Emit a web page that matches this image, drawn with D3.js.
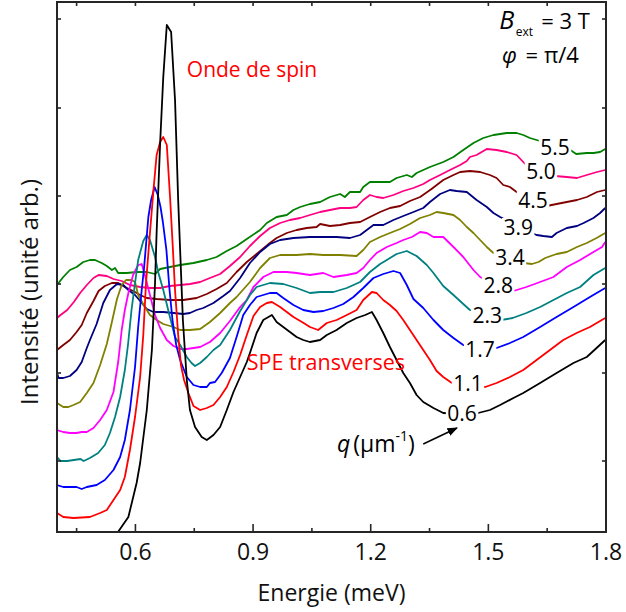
<!DOCTYPE html>
<html><head><meta charset="utf-8">
<script src="https://cdn.jsdelivr.net/npm/d3@7/dist/d3.min.js"></script>
<style>
html,body{margin:0;padding:0;background:#fff;}
text{font-family:"Open Sans",sans-serif;}
</style></head>
<body><svg id="c" width="626" height="612"></svg>
<script>
// ---- data (energy meV, intensity arb. units) ----
const qLabels = ["0.6","1.1","1.7","2.3","2.8","3.4","3.9","4.5","5.0","5.5"];
const colors  = ["#000000","#ff0000","#0000ff","#008080","#ff00ff","#808000","#000080","#800000","#ff0080","#008000"];
const xTicksMajor = [0.6,0.9,1.2,1.5,1.8];
const xTicksMinor = [0.45,0.75,1.05,1.35,1.65];
const yTicks = [89,177,266,354,442,531];

const s06 = [[0.545,0],[0.552,16],[0.582,33],[0.603,67],[0.612,87],[0.629,140],[0.642,200],[0.650,267],[0.654,317],[0.663,407],[0.671,473],[0.680,525],[0.691,518],[0.701,450],[0.709,350],[0.718,260],[0.721,230],[0.731,170],[0.739,140],[0.752,123],[0.769,113],[0.782,110],[0.799,115],[0.816,123],[0.833,140],[0.850,158],[0.867,173],[0.884,188],[0.892,197],[0.909,217],[0.926,230],[0.948,235],[0.960,228],[0.977,223],[0.994,218],[1.011,213],[1.028,210],[1.045,208],[1.071,210],[1.088,215],[1.113,220],[1.139,227],[1.164,232],[1.186,235],[1.203,238],[1.215,230],[1.232,217],[1.249,203],[1.266,190],[1.283,177],[1.300,167],[1.317,155],[1.334,148],[1.360,142],[1.385,137],[1.430,136],[1.474,137],[1.504,140],[1.530,145],[1.564,152],[1.589,157],[1.632,167],[1.674,177],[1.717,187],[1.751,193],[1.776,202],[1.798,210]];
const s11 = [[0.400,37],[0.416,33],[0.442,32],[0.484,33],[0.510,37],[0.527,40],[0.544,50],[0.561,60],[0.573,73],[0.586,100],[0.599,133],[0.612,173],[0.620,215],[0.627,267],[0.637,317],[0.646,360],[0.654,395],[0.663,408],[0.671,413],[0.680,405],[0.688,355],[0.695,305],[0.701,260],[0.709,215],[0.716,185],[0.724,170],[0.735,157],[0.748,144],[0.765,140],[0.782,142],[0.799,145],[0.816,153],[0.833,163],[0.850,178],[0.867,195],[0.884,215],[0.901,234],[0.918,243],[0.935,247],[0.948,248],[0.969,243],[0.986,238],[1.003,233],[1.029,227],[1.045,223],[1.066,220],[1.088,227],[1.113,230],[1.139,235],[1.164,240],[1.181,250],[1.203,258],[1.215,257],[1.232,250],[1.249,245],[1.266,239],[1.283,230],[1.300,220],[1.317,210],[1.334,200],[1.351,190],[1.368,179],[1.385,173],[1.407,167],[1.450,165],[1.492,163],[1.521,167],[1.555,173],[1.589,180],[1.623,190],[1.657,200],[1.691,210],[1.725,217],[1.759,223],[1.798,232]];
const s17 = [[0.400,65],[0.416,63],[0.433,63],[0.450,63],[0.463,61],[0.476,63],[0.501,65],[0.522,70],[0.544,80],[0.561,93],[0.573,110],[0.586,140],[0.599,183],[0.607,223],[0.616,260],[0.622,282],[0.633,333],[0.640,350],[0.649,363],[0.657,355],[0.664,343],[0.670,328],[0.679,300],[0.687,260],[0.695,228],[0.704,205],[0.714,190],[0.731,173],[0.748,165],[0.765,163],[0.782,163],[0.790,167],[0.803,168],[0.820,177],[0.841,192],[0.858,213],[0.875,235],[0.892,245],[0.909,253],[0.926,255],[0.943,257],[0.960,257],[0.977,252],[1.003,245],[1.028,240],[1.054,238],[1.079,239],[1.105,242],[1.130,246],[1.156,253],[1.181,262],[1.207,272],[1.232,276],[1.258,279],[1.275,277],[1.292,265],[1.309,251],[1.334,242],[1.360,230],[1.385,220],[1.411,212],[1.436,205],[1.480,203],[1.521,202],[1.555,207],[1.589,213],[1.632,223],[1.674,233],[1.717,243],[1.759,253],[1.798,262]];
const s23 = [[0.400,93],[0.409,89],[0.426,89],[0.443,90],[0.460,91],[0.468,89],[0.484,92],[0.505,97],[0.522,105],[0.535,117],[0.548,133],[0.561,153],[0.573,180],[0.581,205],[0.590,240],[0.599,267],[0.607,290],[0.620,309],[0.629,315],[0.637,310],[0.650,293],[0.658,278],[0.671,260],[0.688,233],[0.701,213],[0.714,205],[0.731,193],[0.743,187],[0.752,184],[0.765,187],[0.782,193],[0.799,200],[0.816,205],[0.841,220],[0.867,239],[0.892,255],[0.909,263],[0.943,267],[0.977,266],[1.011,262],[1.045,257],[1.071,258],[1.105,258],[1.139,262],[1.173,268],[1.198,278],[1.224,286],[1.241,290],[1.266,296],[1.292,299],[1.317,294],[1.343,285],[1.360,277],[1.385,264],[1.411,255],[1.436,246],[1.453,240],[1.495,235],[1.533,230],[1.562,232],[1.597,237],[1.632,243],[1.666,250],[1.700,257],[1.734,263],[1.768,275],[1.798,282]];
const s28 = [[0.400,120],[0.416,118],[0.433,117],[0.450,117],[0.463,118],[0.476,118],[0.493,122],[0.510,130],[0.527,140],[0.544,158],[0.556,188],[0.565,220],[0.573,240],[0.582,257],[0.594,275],[0.607,285],[0.616,286],[0.624,275],[0.637,255],[0.650,235],[0.663,222],[0.680,210],[0.697,204],[0.714,201],[0.731,201],[0.748,202],[0.765,203],[0.790,208],[0.816,217],[0.841,229],[0.867,243],[0.884,250],[0.901,263],[0.926,273],[0.952,278],[0.986,278],[1.011,277],[1.045,275],[1.079,277],[1.105,273],[1.139,275],[1.164,277],[1.181,282],[1.198,290],[1.215,297],[1.241,303],[1.266,307],[1.283,310],[1.305,313],[1.326,318],[1.343,317],[1.360,313],[1.385,313],[1.411,303],[1.436,293],[1.462,280],[1.479,273],[1.520,265],[1.564,259],[1.597,263],[1.632,268],[1.666,273],[1.700,283],[1.734,290],[1.768,298],[1.790,303],[1.798,308]];
const s34 = [[0.400,147],[0.416,143],[0.429,143],[0.442,145],[0.459,148],[0.476,157],[0.493,167],[0.510,185],[0.527,206],[0.540,228],[0.553,251],[0.565,265],[0.576,270],[0.590,270],[0.599,268],[0.607,255],[0.624,243],[0.637,235],[0.654,230],[0.671,226],[0.697,223],[0.714,220],[0.739,220],[0.765,221],[0.790,228],[0.816,237],[0.841,247],[0.858,253],[0.892,268],[0.918,282],[0.943,292],[0.969,295],[1.011,295],[1.045,296],[1.079,295],[1.122,295],[1.164,294],[1.181,300],[1.198,308],[1.224,313],[1.249,317],[1.275,321],[1.300,326],[1.326,332],[1.351,335],[1.368,338],[1.385,337],[1.411,335],[1.428,330],[1.445,323],[1.462,317],[1.479,310],[1.496,303],[1.513,297],[1.555,292],[1.590,287],[1.611,286],[1.628,288],[1.645,292],[1.674,296],[1.700,298],[1.726,303],[1.751,307],[1.776,312],[1.798,317]];
const s39 = [[0.400,177],[0.404,172],[0.416,172],[0.433,174],[0.450,180],[0.463,188],[0.476,202],[0.484,210],[0.501,226],[0.518,247],[0.535,260],[0.553,266],[0.569,265],[0.582,260],[0.599,255],[0.612,249],[0.629,241],[0.646,238],[0.671,238],[0.697,237],[0.722,236],[0.739,237],[0.756,240],[0.773,242],[0.799,247],[0.824,254],[0.841,259],[0.867,272],[0.892,287],[0.918,298],[0.943,306],[0.969,310],[1.003,312],[1.045,313],[1.079,313],[1.113,313],[1.147,312],[1.173,315],[1.190,320],[1.207,325],[1.232,325],[1.258,330],[1.283,334],[1.309,338],[1.334,342],[1.351,348],[1.377,356],[1.402,360],[1.419,359],[1.445,358],[1.470,350],[1.496,343],[1.513,337],[1.530,333],[1.570,325],[1.611,317],[1.623,315],[1.640,314],[1.662,313],[1.674,317],[1.700,322],[1.726,324],[1.743,327],[1.768,332],[1.785,337],[1.798,342]];
const s45 = [[0.400,200],[0.416,205],[0.433,210],[0.450,218],[0.463,225],[0.476,237],[0.493,249],[0.506,259],[0.522,264],[0.540,267],[0.556,267],[0.573,263],[0.594,259],[0.612,255],[0.629,252],[0.654,251],[0.688,250],[0.722,250],[0.756,252],[0.782,256],[0.807,261],[0.833,267],[0.858,278],[0.884,288],[0.909,296],[0.943,307],[0.960,312],[0.986,317],[1.011,320],[1.037,322],[1.062,323],[1.071,326],[1.096,324],[1.122,325],[1.147,327],[1.173,328],[1.198,333],[1.224,338],[1.249,342],[1.275,344],[1.300,349],[1.326,353],[1.355,361],[1.385,370],[1.411,375],[1.428,378],[1.453,379],[1.479,378],[1.504,375],[1.521,372],[1.538,365],[1.555,363],[1.572,358],[1.610,350],[1.649,344],[1.674,346],[1.700,348],[1.726,350],[1.751,353],[1.777,358],[1.798,360]];
const s50 = [[0.400,232],[0.409,235],[0.426,240],[0.443,248],[0.459,257],[0.476,265],[0.493,272],[0.506,275],[0.527,274],[0.544,271],[0.565,269],[0.586,265],[0.612,263],[0.637,262],[0.663,262],[0.688,264],[0.714,265],[0.739,266],[0.765,268],[0.790,272],[0.816,276],[0.841,284],[0.867,293],[0.892,304],[0.918,314],[0.943,322],[0.969,327],[0.994,330],[1.020,332],[1.045,335],[1.071,338],[1.096,340],[1.122,342],[1.147,342],[1.164,343],[1.181,350],[1.198,355],[1.215,353],[1.232,352],[1.258,355],[1.283,359],[1.309,362],[1.334,366],[1.351,370],[1.377,375],[1.402,380],[1.428,385],[1.445,389],[1.453,393],[1.470,395],[1.496,401],[1.521,400],[1.547,398],[1.572,395],[1.589,388],[1.594,386],[1.630,380],[1.670,374],[1.700,373],[1.726,372],[1.751,375],[1.777,378],[1.798,380]];
const s55 = [[0.400,265],[0.416,273],[0.433,280],[0.450,283],[0.467,288],[0.484,290],[0.497,290],[0.514,287],[0.527,284],[0.540,280],[0.548,282],[0.556,277],[0.578,277],[0.603,278],[0.629,278],[0.650,276],[0.663,281],[0.688,283],[0.714,285],[0.748,287],[0.782,290],[0.807,293],[0.833,299],[0.858,304],[0.884,311],[0.918,320],[0.935,327],[0.960,333],[0.986,335],[1.003,340],[1.020,343],[1.045,346],[1.071,348],[1.096,353],[1.122,356],[1.134,353],[1.147,358],[1.173,358],[1.181,363],[1.198,368],[1.224,368],[1.249,368],[1.266,372],[1.292,375],[1.305,373],[1.317,377],[1.334,380],[1.351,383],[1.385,388],[1.411,393],[1.436,400],[1.462,407],[1.487,412],[1.513,415],[1.547,417],[1.572,417],[1.589,415],[1.606,412],[1.623,410],[1.665,405],[1.709,400],[1.724,396],[1.751,397],[1.768,397],[1.785,398],[1.798,401]];
const series = [s06,s11,s17,s23,s28,s34,s39,s45,s50,s55];
// label centres (energy, intensity)
const labelE = [1.433,1.448,1.479,1.497,1.525,1.555,1.576,1.614,1.634,1.670];
const labelV = [137,167,201,235,265,293,323,350,379,403];

// ---- layout ----
const svg = d3.select("#c");
const L=57, R=606, T=2, B=532;
const x = d3.scaleLinear().domain([0.4,1.8]).range([L,R]);
const y = d3.scaleLinear().domain([18,548]).range([B,T]);

const defs = svg.append("defs");
defs.append("clipPath").attr("id","clip")
  .append("rect").attr("x",L).attr("y",T).attr("width",R-L).attr("height",B-T);
defs.append("marker").attr("id","arr").attr("viewBox","0 0 10 10")
  .attr("refX",9).attr("refY",5).attr("markerWidth",7).attr("markerHeight",7).attr("orient","auto")
  .append("path").attr("d","M0,1 L10,5 L0,9 Z").attr("fill","#000");

const line = d3.line().x(d=>x(d[0])).y(d=>y(d[1]));
const g = svg.append("g").attr("clip-path","url(#clip)");
for (let i=series.length-1;i>=0;i--){
  g.append("path").attr("d",line(series[i])).attr("fill","none")
    .attr("stroke",colors[i]).attr("stroke-width",1.8).attr("stroke-linejoin","round");
}

// q labels with white background
const lg = svg.append("g");
qLabels.forEach((t,i)=>{
  const cx=x(labelE[i]), cy=y(labelV[i]);
  const tx = lg.append("text").attr("x",cx).attr("y",cy).attr("dy","0.36em")
    .attr("text-anchor","middle").attr("font-size",21).attr("fill","#000").text(t);
  const bb = tx.node().getBBox();
  lg.insert("rect","text").attr("x",bb.x-1.5).attr("y",cy-9).attr("width",bb.width+3).attr("height",18).attr("fill","#fff");
});

// frame & ticks
const ax = svg.append("g").attr("stroke","#262626").attr("stroke-width",1.6);
ax.append("rect").attr("x",L).attr("y",T).attr("width",R-L).attr("height",B-T).attr("fill","none").attr("stroke-width",2);
xTicksMajor.forEach(v=>{
  ax.append("line").attr("x1",x(v)).attr("x2",x(v)).attr("y1",B).attr("y2",B-8);
  ax.append("line").attr("x1",x(v)).attr("x2",x(v)).attr("y1",T).attr("y2",T+4);
});
xTicksMinor.forEach(v=>{
  ax.append("line").attr("x1",x(v)).attr("x2",x(v)).attr("y1",B).attr("y2",B-4);
  ax.append("line").attr("x1",x(v)).attr("x2",x(v)).attr("y1",T).attr("y2",T+4);
});
yTicks.forEach(v=>{
  ax.append("line").attr("x1",L).attr("x2",L+4).attr("y1",y(v)).attr("y2",y(v));
  ax.append("line").attr("x1",R).attr("x2",R-4).attr("y1",y(v)).attr("y2",y(v));
});
xTicksMajor.forEach(v=>{
  svg.append("text").attr("x",x(v)).attr("y",560).attr("text-anchor","middle")
    .attr("font-size",23).attr("fill","#111").text(v.toFixed(1));
});
svg.append("text").attr("x",(L+R)/2).attr("y",601).attr("text-anchor","middle")
  .attr("font-size",23).attr("fill","#111").text("Energie (meV)");
svg.append("text").attr("transform","translate(38,"+((T+B)/2+25)+") rotate(-90)")
  .attr("text-anchor","middle").attr("font-size",24).attr("fill","#111").text("Intensité (unité arb.)");

// annotations
svg.append("text").attr("x",x(0.731)).attr("y",y(473)).attr("font-size",21).attr("fill","#ff0000").text("Onde de spin");
svg.append("text").attr("x",x(0.884)).attr("y",y(180)).attr("font-size",21.5).attr("fill","#ff0000").text("SPE transverses");

const qt = svg.append("text").attr("x",x(1.114)).attr("y",y(98)).attr("font-size",23).attr("fill","#000");
qt.append("tspan").attr("font-style","italic").text("q");
qt.append("tspan").attr("dx",3).text("(µm");
qt.append("tspan").attr("font-size",14).attr("dy",-11).text("-1");
qt.append("tspan").attr("dy",11).text(")");
svg.append("line").attr("x1",x(1.334)).attr("y1",y(106)).attr("x2",x(1.420)).attr("y2",y(122))
  .attr("stroke","#000").attr("stroke-width",1.5).attr("marker-end","url(#arr)");

// field / angle annotation (separate pieces)
svg.append("text").attr("x",x(1.528)).attr("y",y(521)).attr("font-size",25).attr("font-style","italic").attr("fill","#000").text("B");
svg.append("text").attr("x",x(1.570)).attr("y",y(514)).attr("font-size",12).attr("fill","#000").text("ext");
svg.append("text").attr("x",x(1.635)).attr("y",y(521)).attr("font-size",22).attr("fill","#000").text("= 3 T");
svg.append("text").attr("x",x(1.535)).attr("y",y(487)).attr("font-size",22).attr("font-style","italic").attr("fill","#000").text("φ");
svg.append("text").attr("x",x(1.595)).attr("y",y(487)).attr("font-size",22).attr("fill","#000").text("= π/4");
</script></body></html>
